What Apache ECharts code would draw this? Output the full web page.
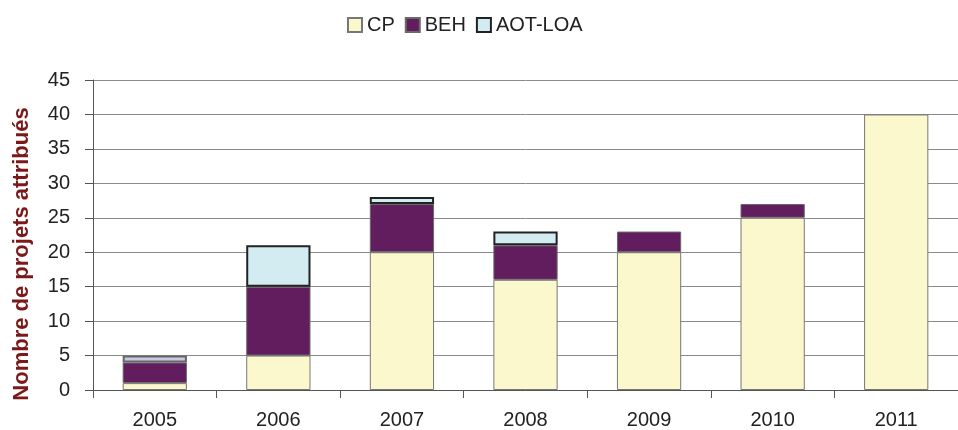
<!DOCTYPE html>
<html>
<head>
<meta charset="utf-8">
<script src="https://cdn.jsdelivr.net/npm/echarts@6/dist/echarts.min.js"></script>
<style>
  html, body { margin: 0; padding: 0; background: #fff; }
  #chart { width: 958px; height: 430px; }
</style>
</head>
<body>
<div id="chart"></div>
<script>
// Projets attribués par année et par type de contrat
const years = ['2005', '2006', '2007', '2008', '2009', '2010', '2011'];
const cp = [1, 5, 20, 16, 20, 25, 40];
const beh = [3, 10, 7, 5, 3, 2, 0];
const aotLoa = [1, 6, 1, 2, 0, 0, 0];
const yTicks = [0, 5, 10, 15, 20, 25, 30, 35, 40, 45];

const font = 'Liberation Sans, Arial, sans-serif';
const chart = echarts.init(document.getElementById('chart'));

const hideZero = arr => arr.map(v => (v === 0 ? '-' : v));

chart.setOption({
  animation: false,
  textStyle: { fontFamily: font },
  legend: {
    top: 10,
    left: 342,
    icon: 'rect',
    itemWidth: 14,
    itemHeight: 14,
    itemGap: 10,
    textStyle: { fontSize: 20, color: '#222', fontFamily: font },
    data: ['CP', 'BEH', 'AOT-LOA']
  },
  grid: { left: 93, top: 80, width: 875, height: 311, containLabel: false },
  xAxis: {
    type: 'category',
    data: years,
    axisLine: { lineStyle: { color: '#555', width: 1 } },
    axisTick: { show: true, alignWithLabel: false, length: 8, lineStyle: { color: '#555' } },
    axisLabel: { fontSize: 20, color: '#222', margin: 20 }
  },
  yAxis: {
    type: 'value',
    min: yTicks[0],
    max: yTicks[yTicks.length - 1],
    interval: 5,
    name: 'Nombre de projets attribués',
    nameLocation: 'middle',
    nameGap: 60,
    nameTextStyle: { fontSize: 22, fontWeight: 'bold', color: '#7b1818', padding: [0, 38, 0, 0] },
    axisLine: { show: true, lineStyle: { color: '#555' } },
    axisTick: { show: true, length: 8, lineStyle: { color: '#555' } },
    axisLabel: { fontSize: 20, color: '#222', margin: 23 },
    splitLine: { lineStyle: { color: '#8a8a8a', width: 1 } }
  },
  series: [
    {
      name: 'CP', type: 'bar', stack: 'total', barWidth: '52%',
      data: hideZero(cp),
      itemStyle: { color: '#fbf8cd', borderColor: '#777', borderWidth: 1 }
    },
    {
      name: 'BEH', type: 'bar', stack: 'total',
      data: hideZero(beh),
      itemStyle: { color: '#621d5f', borderColor: '#6a6a6a', borderWidth: 1 }
    },
    {
      name: 'AOT-LOA', type: 'bar', stack: 'total',
      data: aotLoa.map((v, i) => {
        if (v === 0) return '-';
        if (i === 0) return { value: v, itemStyle: { color: '#c9c8e4', borderColor: '#666' } };
        return v;
      }),
      itemStyle: { color: '#d2ecf2', borderColor: '#222', borderWidth: 2 }
    }
  ]
});
</script>
</body>
</html>
